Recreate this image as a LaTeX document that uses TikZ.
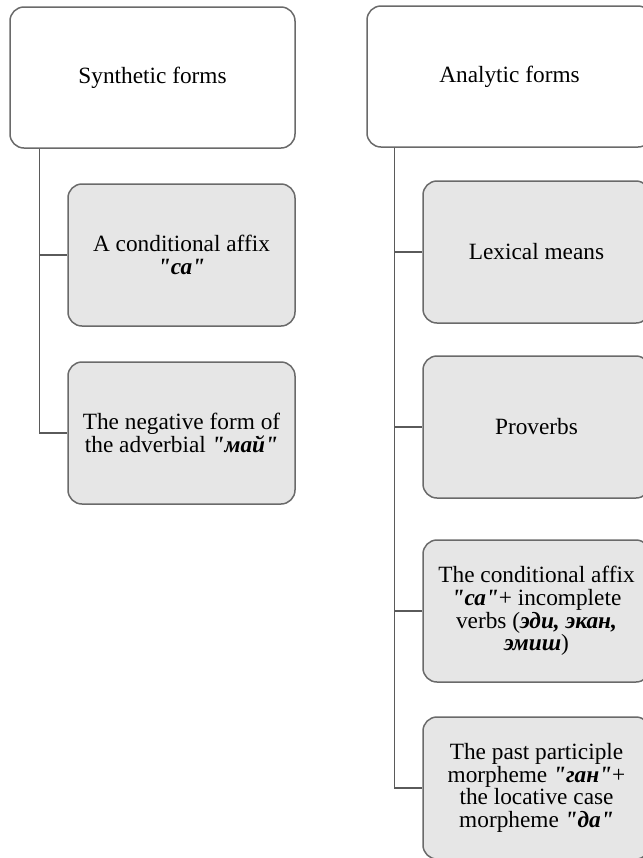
\documentclass[tikz,border=0pt]{standalone}
\usepackage{fontspec}
\setmainfont{Liberation Serif}[Ligatures=TeXOff]
\definecolor{boxgray}{HTML}{6A6A6A}
\definecolor{linegray}{HTML}{5A5A5A}
\definecolor{itemfill}{HTML}{E6E6E6}
\newcommand{\bi}[1]{\textbf{\textit{#1}}}
\begin{document}
\begin{tikzpicture}[x=0.5pt, y=-0.5pt, line width=0.75pt,
head/.style={draw=boxgray, rounded corners=7pt, fill=white, minimum width=142.5pt, minimum height=70.5pt, inner sep=2pt, align=center, font=\fontsize{11.65}{11.3}\selectfont},
item/.style={head, fill=itemfill, minimum width=113.5pt, minimum height=71pt},
link/.style={draw=linegray}]%sizes in px of the page
\useasboundingbox (0,0) rectangle (643,858);
\clip (0,0) rectangle (643,858);
\node[head] (synth) at (152.5,77.5) {Synthetic forms};
\node[item] (ca) at (181.5,255) {A conditional affix\\ \bi{"са"}};
\node[item] (may) at (181.5,433) {The negative form of\\ the adverbial \bi{"май"}};
\node[head] (anal) at (509.5,76.5) {Analytic forms};
\node[item] (lex) at (536.5,252) {Lexical means};
\node[item] (prov) at (536.5,427) {Proverbs};
\node[item] (cond) at (536.5,611) {The conditional affix\\ \bi{"са"}+ incomplete\\ verbs (\bi{эди, экан,}\\ \bi{эмиш})};
\node[item] (past) at (536.5,788) {The past participle\\ morpheme \bi{"ган"}+\\ the locative case\\ morpheme \bi{"да"}};
\draw[link] ([xshift=15pt]synth.south west) |- (ca.west);
\draw[link] ([xshift=15pt]synth.south west) |- (may.west);
\draw[link] ([xshift=14pt]anal.south west) |- (lex.west);
\draw[link] ([xshift=14pt]anal.south west) |- (prov.west);
\draw[link] ([xshift=14pt]anal.south west) |- (cond.west);
\draw[link] ([xshift=14pt]anal.south west) |- (past.west);
\end{tikzpicture}
\end{document}
